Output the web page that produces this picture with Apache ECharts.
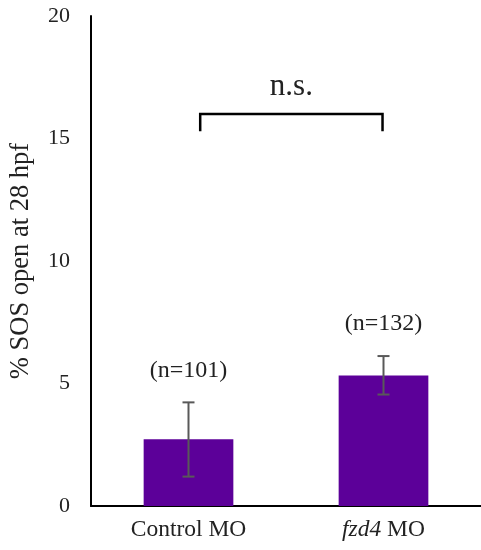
<!DOCTYPE html>
<html>
<head>
<meta charset="utf-8">
<script src="https://cdn.jsdelivr.net/npm/echarts@6/dist/echarts.min.js"></script>
<style>
    html, body { margin: 0; padding: 0; background: #fff; }
    #main { width: 481px; height: 550px; }
</style>
</head>
<body>
<div id="main"></div>
<script>
// data
var categories = ['Control MO', 'fzd4 MO']
var sosOpen = [2.72, 5.33]
var errLow = [1.2, 4.55]
var errHigh = [4.23, 6.12]
var nLabels = ['(n=101)', '(n=132)']
var yTicks = [0, 5, 10, 15, 20]
var bracketTop = 16
var bracketFoot = 15.3
var bracketText = 'n.s.'

var serif = '"Liberation Serif", "Times New Roman", serif'

var myChart = echarts.init(document.getElementById('main'))

let errData = categories.map(function (c, i) {
    return [i, errLow[i], errHigh[i], nLabels[i]]
})

let option = {
    backgroundColor: '#fff',
    animation: false,
    grid: {
        left: 90,
        right: -5,
        top: 16,
        bottom: 44,
    },
    xAxis: {
        type: 'category',
        data: categories,
        axisLine: { lineStyle: { color: '#000', width: 2 } },
        axisTick: { show: false },
        axisLabel: {
            margin: 12,
            color: '#222',
            fontFamily: serif,
            fontSize: 23.5,
            formatter: function (v) {
                if (v.indexOf('fzd4') === 0) return '{i|fzd4} MO'
                return v
            },
            rich: {
                i: { fontStyle: 'italic', fontFamily: serif, fontSize: 23.5, color: '#222' },
            },
        },
    },
    yAxis: {
        type: 'value',
        min: yTicks[0],
        max: yTicks[yTicks.length - 1],
        interval: 5,
        name: '% SOS open at 28 hpf',
        nameLocation: 'middle',
        nameGap: 56,
        nameTextStyle: { fontFamily: serif, fontSize: 26.5, color: '#222' },
        axisLine: { show: true, lineStyle: { color: '#000', width: 2 } },
        axisTick: { show: false },
        splitLine: { show: false },
        axisLabel: {
            margin: 21,
            color: '#222',
            fontFamily: serif,
            fontSize: 22,
        },
    },
    series: [
        {
            type: 'bar',
            data: sosOpen,
            barWidth: '46%',
            itemStyle: { color: '#5c0099' },
        },
        {
            type: 'custom',
            data: errData,
            z: 5,
            renderItem: function (params, api) {
                var i = api.value(0)
                var lo = api.coord([i, api.value(1)])
                var hi = api.coord([i, api.value(2)])
                var cap = 6
                var style = { stroke: '#595959', lineWidth: 2 }
                return {
                    type: 'group',
                    children: [
                        { type: 'line', shape: { x1: lo[0], y1: lo[1], x2: hi[0], y2: hi[1] }, style: style },
                        { type: 'line', shape: { x1: hi[0] - cap, y1: hi[1], x2: hi[0] + cap, y2: hi[1] }, style: style },
                        { type: 'line', shape: { x1: lo[0] - cap, y1: lo[1], x2: lo[0] + cap, y2: lo[1] }, style: style },
                        {
                            type: 'text',
                            style: {
                                text: nLabels[i],
                                x: hi[0],
                                y: hi[1] - 32,
                                align: 'center',
                                verticalAlign: 'middle',
                                font: '24px ' + serif,
                                fill: '#222',
                            },
                        },
                    ],
                }
            },
        },
        {
            type: 'custom',
            data: [[0, bracketTop, bracketFoot]],
            renderItem: function (params, api) {
                var band = api.size([1, 0])[0]
                var a = api.coord([0, api.value(1)])
                var b = api.coord([1, api.value(1)])
                var foot = api.coord([0, api.value(2)])[1]
                var x1 = a[0] + band * 0.06
                var x2 = b[0] - band * 0.005
                return {
                    type: 'group',
                    children: [
                        {
                            type: 'polyline',
                            shape: { points: [[x1, foot], [x1, a[1]], [x2, a[1]], [x2, foot]] },
                            style: { stroke: '#000', lineWidth: 2.5, fill: null },
                        },
                        {
                            type: 'text',
                            style: {
                                text: bracketText,
                                x: (x1 + x2) / 2,
                                y: a[1] - 27,
                                align: 'center',
                                verticalAlign: 'middle',
                                font: '31px ' + serif,
                                fill: '#222',
                            },
                        },
                    ],
                }
            },
        },
    ],
}
myChart.setOption(option)
</script>
</body>
</html>
